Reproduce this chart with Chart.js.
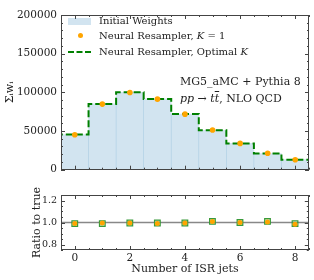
<!DOCTYPE html>
<html>
<head>
<meta charset="utf-8">
<script src="https://cdn.jsdelivr.net/npm/chart.js@4.4.1/dist/chart.umd.min.js"></script>
<style>
  html, body { margin: 0; padding: 0; background: #fff; }
  #wrap { position: relative; width: 314px; height: 280px; font-family: 'DejaVu Serif', serif; color: #222; }
  canvas { position: absolute; left: 0; }
  #top { top: 0; }
  #bottom { top: 180px; }
  .lg { position: absolute; font-size: 10px; white-space: nowrap; line-height: 12px; }
  .note { position: absolute; font-size: 11px; white-space: nowrap; line-height: 13px; }
  .sw { position: absolute; }
</style>
</head>
<body>
<div id="wrap">
  <canvas id="top" width="314" height="180"></canvas>
  <canvas id="bottom" width="314" height="100"></canvas>

  <div class="sw" style="left:68px;top:18px;width:23px;height:7px;background:rgba(31,119,180,0.2);"></div>
  <div class="lg" style="left:99px;top:15px;">Initial Weights</div>
  <div class="sw" style="left:78px;top:33px;width:5px;height:5px;border-radius:50%;background:#ffa500;"></div>
  <div class="lg" style="left:99px;top:30px;">Neural Resampler, <i>K</i> = 1</div>
  <div class="sw" style="left:68px;top:51px;width:23px;height:0;border-top:2px dashed #008000;"></div>
  <div class="lg" style="left:99px;top:46px;">Neural Resampler, Optimal <i>K</i></div>

  <div class="note" style="left:180px;top:75px;">MG5_aMC + Pythia 8</div>
  <div class="note" style="left:180px;top:92px;"><i>pp</i> → <i>t</i><i style="text-decoration:overline">t</i>, NLO QCD</div>
</div>
<script>
// number of ISR jets
const nJets = [0, 1, 2, 3, 4, 5, 6, 7, 8];
const initialWeights = [45500, 85000, 100000, 91500, 72000, 51000, 34000, 21000, 13000];
const resamplerK1 = [45200, 84800, 99800, 91200, 71800, 51300, 34000, 21200, 12900];
const resamplerOptK = [45500, 85000, 100000, 91500, 72000, 51000, 34000, 21000, 13000];
const ratioK1 = [0.99, 0.995, 0.995, 0.99, 0.995, 1.01, 1.0, 1.005, 0.985];
const ratioOptK = [0.99, 0.99, 0.995, 0.995, 0.995, 1.01, 1.0, 1.01, 0.99];
const xTicks = [0, 2, 4, 6, 8];
const yTicksTop = [0, 50000, 100000, 150000, 200000];
const yTicksRatio = [0.8, 1.0, 1.2];

const serif = "'DejaVu Serif', serif";
const tickFont = { family: serif, size: 10.5 };
const titleFont = { family: serif, size: 11 };

// histogram outline: step from bin edges
const stepPts = [{ x: nJets[0] - 0.5, y: 0 }];
nJets.forEach((n, i) => stepPts.push({ x: n - 0.5, y: resamplerOptK[i] }));
stepPts.push({ x: nJets[nJets.length - 1] + 0.5, y: resamplerOptK[resamplerOptK.length - 1] });
stepPts.push({ x: nJets[nJets.length - 1] + 0.5, y: 0 });

function range(a, b, s) {
  const out = [];
  for (let v = a; v <= b + 1e-9; v += s) out.push(+v.toFixed(4));
  return out;
}

// frame + inward ticks on all four sides, like the matplotlib style
const frameTicks = {
  id: 'frameTicks',
  afterDatasetsDraw(chart, args, o) {
    const { ctx, chartArea: a, scales: { x, y } } = chart;
    ctx.save();
    ctx.strokeStyle = '#444';
    ctx.lineWidth = 1;
    const seg = (x1, y1, x2, y2) => { ctx.beginPath(); ctx.moveTo(x1, y1); ctx.lineTo(x2, y2); ctx.stroke(); };
    o.xMinor.forEach(v => {
      const p = Math.round(x.getPixelForValue(v)) + 0.5;
      seg(p, a.bottom, p, a.bottom - 2); seg(p, a.top, p, a.top + 2);
    });
    o.xMajor.forEach(v => {
      const p = Math.round(x.getPixelForValue(v)) + 0.5;
      seg(p, a.bottom, p, a.bottom - 4); seg(p, a.top, p, a.top + 4);
    });
    o.yMinor.forEach(v => {
      const p = Math.round(y.getPixelForValue(v)) + 0.5;
      seg(a.left, p, a.left + 2, p); seg(a.right, p, a.right - 2, p);
    });
    o.yMajor.forEach(v => {
      const p = Math.round(y.getPixelForValue(v)) + 0.5;
      seg(a.left, p, a.left + 4, p); seg(a.right, p, a.right - 4, p);
    });
    ctx.strokeRect(Math.round(a.left) + 0.5, Math.round(a.top) + 0.5, Math.round(a.width) - 1, Math.round(a.height) - 1);
    ctx.restore();
  }
};

const xScaleBase = {
  type: 'linear', min: -0.5, max: 8.5, offset: false,
  grid: { display: false, drawTicks: false, offset: false },
  border: { display: false },
  afterBuildTicks: s => { s.ticks = xTicks.map(v => ({ value: v })); }
};

new Chart(document.getElementById('top'), {
  data: {
    datasets: [
      {
        type: 'bar', label: 'Initial Weights', order: 3,
        data: nJets.map((n, i) => ({ x: n, y: initialWeights[i] })),
        backgroundColor: 'rgba(31,119,180,0.2)', borderWidth: 0,
        barPercentage: 1, categoryPercentage: 1
      },
      {
        type: 'line', label: 'Neural Resampler, Optimal K', order: 2,
        data: stepPts, stepped: 'before',
        borderColor: '#008000', borderWidth: 2, borderDash: [7, 3],
        pointRadius: 0, fill: false
      },
      {
        type: 'scatter', label: 'Neural Resampler, K=1', order: 1,
        data: nJets.map((n, i) => ({ x: n, y: resamplerK1[i] })),
        backgroundColor: '#ffa500', borderWidth: 0, pointRadius: 2.8
      }
    ]
  },
  options: {
    responsive: false, animation: false, devicePixelRatio: 1,
    layout: { padding: { top: 15, right: 5, bottom: 7, left: 0 } },
    plugins: {
      legend: { display: false }, tooltip: { enabled: false },
      frameTicks: {
        xMajor: xTicks, xMinor: range(-0.5, 8.5, 0.5),
        yMajor: yTicksTop, yMinor: range(0, 200000, 10000)
      }
    },
    scales: {
      x: Object.assign({}, xScaleBase, { display: false }),
      y: {
        min: 0, max: 200000,
        grid: { display: false, drawTicks: false },
        border: { display: false },
        afterBuildTicks: s => { s.ticks = yTicksTop.map(v => ({ value: v })); },
        afterFit: s => { s.width = 61; },
        ticks: { font: tickFont, color: '#222', padding: 4, callback: v => String(v) },
        title: { display: true, text: 'Σᵢwᵢ', font: titleFont, color: '#222', padding: { top: 4, bottom: 0 } }
      }
    }
  },
  plugins: [frameTicks]
});

new Chart(document.getElementById('bottom'), {
  data: {
    datasets: [
      {
        type: 'scatter', order: 1,
        data: nJets.map((n, i) => ({ x: n, y: ratioK1[i] })),
        backgroundColor: '#ffa500', borderWidth: 0, pointRadius: 2.5
      },
      {
        type: 'scatter', order: 2,
        data: nJets.map((n, i) => ({ x: n, y: ratioOptK[i] })),
        pointStyle: 'rect', pointRadius: 4,
        backgroundColor: 'rgba(60,170,60,0.3)', borderColor: '#3a9a3a', borderWidth: 1.2
      },
      {
        type: 'line', order: 3,
        data: [{ x: -0.5, y: 1 }, { x: 8.5, y: 1 }],
        borderColor: '#888', borderWidth: 1.5, pointRadius: 0
      }
    ]
  },
  options: {
    responsive: false, animation: false, devicePixelRatio: 1,
    layout: { padding: { top: 15, right: 5, bottom: 0, left: 0 } },
    plugins: {
      legend: { display: false }, tooltip: { enabled: false },
      frameTicks: {
        xMajor: xTicks, xMinor: range(-0.5, 8.5, 0.5),
        yMajor: yTicksRatio, yMinor: range(0.75, 1.25, 0.05)
      }
    },
    scales: {
      x: Object.assign({}, xScaleBase, {
        afterFit: s => { s.height = 30; },
        ticks: { font: tickFont, color: '#222', padding: 2 },
        title: { display: true, text: 'Number of ISR jets', font: titleFont, color: '#222', padding: { top: 0, bottom: 4 } }
      }),
      y: {
        min: 0.75, max: 1.25,
        grid: { display: false, drawTicks: false },
        border: { display: false },
        afterBuildTicks: s => { s.ticks = yTicksRatio.map(v => ({ value: v })); },
        afterFit: s => { s.width = 61; },
        ticks: { font: { family: serif, size: 9.5 }, color: '#222', padding: 4, callback: v => v.toFixed(1) },
        title: { display: true, text: 'Ratio to true', font: titleFont, color: '#222', padding: { top: 31, bottom: 0 } }
      }
    }
  },
  plugins: [frameTicks]
});
</script>
</body>
</html>
